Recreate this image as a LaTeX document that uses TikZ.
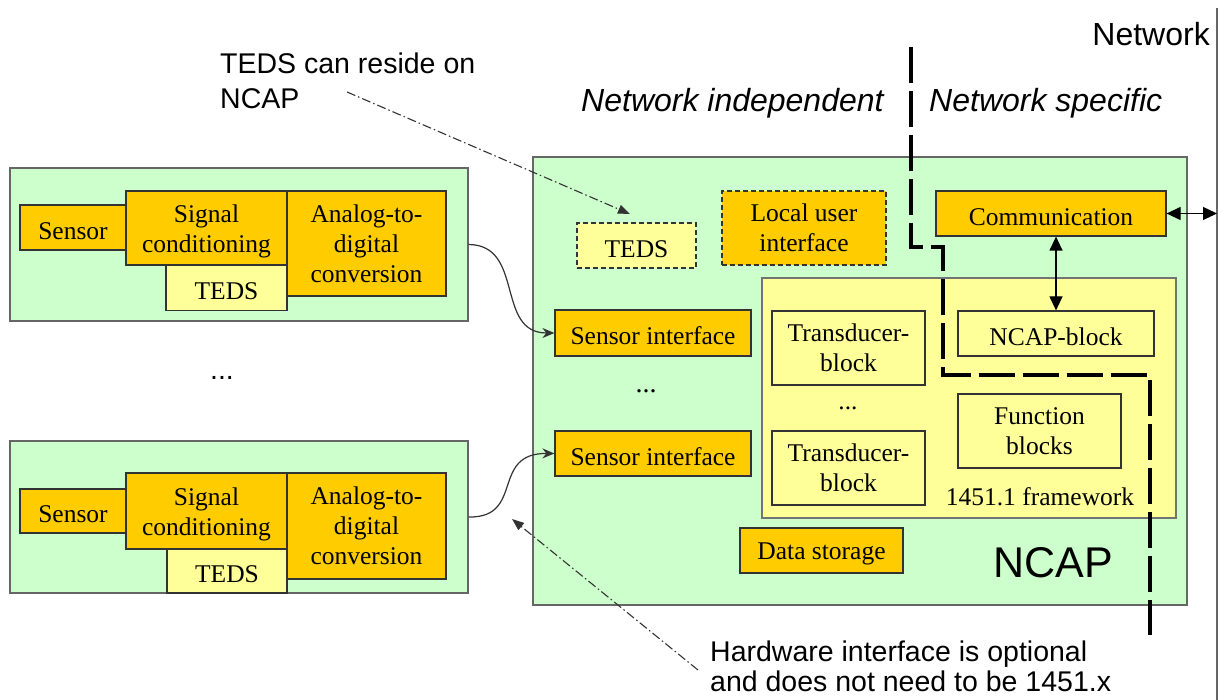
\documentclass[tikz,border=0pt]{standalone}
\usepackage{fontspec}
\setmainfont{Liberation Serif}
\newfontfamily\arial{Liberation Sans}
\usetikzlibrary{arrows.meta,calc}
\definecolor{greenbox}{HTML}{CCFFCC}
\definecolor{orangebox}{HTML}{FFCC00}
\definecolor{yellowbox}{HTML}{FFFF99}
\newcommand\tup{\rule{0pt}{0.95em}}
\begin{document}
\begin{tikzpicture}[x=1pt,y=-1pt,
  box/.style={draw=black!80, line width=1.2pt, inner sep=0pt, align=center,
    font=\fontsize{25.5}{30}\selectfont, execute at begin node={\tup}},
  obox/.style={box, fill=orangebox},
  ybox/.style={box, fill=yellowbox},
  gbox/.style={draw=black!60, line width=1.3pt, fill=greenbox, inner sep=0pt},
  fwbox/.style={draw=black!55, line width=1.3pt, fill=yellowbox, inner sep=0pt},
  dbox/.style={dashed, dash pattern=on 5pt off 3pt},
  serif/.style={font=\fontsize{25.5}{30}\selectfont, inner sep=0pt},
  sans/.style={font=\arial\fontsize{28.5}{35}\selectfont, inner sep=0pt, align=left},
  hdr/.style={font=\arial\itshape\fontsize{32}{38}\selectfont, inner sep=0pt},
  cable/.style={draw=black!80, line width=1.2pt, -{Stealth[length=12pt,width=10pt]}},
  note/.style={draw=black!80, line width=1.1pt, dash pattern=on 9pt off 3pt on 1.5pt off 3pt,
    -{Triangle[length=12pt,width=9pt]}},
  biarrow/.style={draw=black, line width=1.2pt,
    {Triangle[length=14pt,width=13pt]}-{Triangle[length=14pt,width=13pt]}},
  boundary/.style={draw=black, line width=4.2pt, dash pattern=on 36pt off 8pt}
]
\useasboundingbox (0,0) rectangle (1225,700);

% ---------- left sensor modules ----------
\node[gbox, minimum width=458, minimum height=153] (g1) at (239,244.5) {};
\node[ybox, minimum width=121, minimum height=45] (teds1) at (226.5,288) {TEDS};
\node[obox, minimum width=106, minimum height=45] (sen1) at (73,227.5) {Sensor};
\node[obox, minimum width=161, minimum height=74] (sig1) at (206.5,228) {\tup Signal\\conditioning};
\node[obox, minimum width=159, minimum height=105] (adc1) at (366.5,243.5) {Analog-to-\\digital\\conversion};

\node[font=\arial\fontsize{28.5}{35}\selectfont, inner sep=0pt] (dotsL) at (222,378) {...};

\node[gbox, minimum width=458, minimum height=152] (g2) at (239,517) {};
\node[ybox, minimum width=120, minimum height=44] (teds2) at (227,571) {TEDS};
\node[obox, minimum width=106, minimum height=44] (sen2) at (73,511) {Sensor};
\node[obox, minimum width=161, minimum height=76] (sig2) at (206.5,511) {\tup Signal\\conditioning};
\node[obox, minimum width=159, minimum height=106] (adc2) at (366.5,526) {Analog-to-\\digital\\conversion};

% ---------- NCAP ----------
\node[gbox, minimum width=654, minimum height=448] (ncap) at (860,381) {};
\node[ybox, dbox, minimum width=119, minimum height=45] (tedsN) at (636.5,245.5) {TEDS};
\node[obox, dbox, minimum width=164, minimum height=74] (lui) at (804,228) {Local user\\interface};
\node[obox, minimum width=230, minimum height=45] (comm) at (1051,213.5) {Communication};
\node[obox, minimum width=196, minimum height=46] (si1) at (653,333) {Sensor interface};
\node[font=\fontsize{28}{30}\selectfont, inner sep=0pt] (dotsN) at (646,391) {...};
\node[obox, minimum width=196, minimum height=45] (si2) at (653,453.5) {Sensor interface};

\node[fwbox, minimum width=414, minimum height=240] (fw) at (969,398) {};
\node[ybox, minimum width=153, minimum height=74] (tb1) at (848.5,348) {Transducer-\\block};
\node[serif] (dotsF) at (848,408) {...};
\node[ybox, minimum width=153, minimum height=74] (tb2) at (848.5,468) {Transducer-\\block};
\node[ybox, minimum width=196, minimum height=45] (ncb) at (1056,333.5) {NCAP-block};
\node[ybox, minimum width=163, minimum height=74] (fb) at (1039.5,431) {Function\\blocks};
\node[serif, anchor=base] (fwlabel) at (1040,505) {1451.1 framework};
\node[obox, minimum width=163, minimum height=45] (ds) at (821.5,550.5) {Data storage};
\node[font=\arial\fontsize{43}{50}\selectfont, inner sep=0pt] (ncaplabel) at (1053,563) {NCAP};

% ---------- headers and notes ----------
\node[hdr, anchor=base west] (hind) at (581,112) {Network independent};
\node[hdr, anchor=base west] (hspec) at (929,112) {Network specific};
\node[font=\arial\fontsize{32}{38}\selectfont, inner sep=0pt, anchor=base east] (netlabel) at (1210,46) {Network};
\node[sans, anchor=base west] (tedsnote) at (220,109) {TEDS can reside on\\NCAP};
\node[sans, font=\arial\fontsize{28.5}{30}\selectfont, anchor=base west] (hwnote) at (710,691)
  {Hardware interface is optional\\and does not need to be 1451.x};

% ---------- network line ----------
\coordinate (nettop) at (1217,8);
\coordinate (netbot) at (1217,700);
\draw[draw=black!60, line width=1.3pt] (nettop) -- (netbot);

% ---------- boundary between network independent / specific ----------
\draw[boundary] (911,47) -- (911,247) -- (943,247) -- (943,375) -- (1150,375) -- (1150,635);

% ---------- connectors ----------
\draw[biarrow] (comm.east) -- (comm.east -| nettop);
\draw[biarrow] (ncb.north |- comm.south) -- (ncb.north);
\draw[cable] (g1.east) .. controls (525,245) and (495,333) .. (si1.west);
\draw[cable] (g2.east) .. controls (525,518) and (490,453) .. (si2.west);

\coordinate (n1s) at (347,92);
\coordinate (n1e) at (630,214);
\draw[note] (n1s) -- (n1e);
\coordinate (n2s) at (698,670);
\coordinate (n2e) at (512,519);
\draw[note] (n2s) -- (n2e);
\end{tikzpicture}
\end{document}
